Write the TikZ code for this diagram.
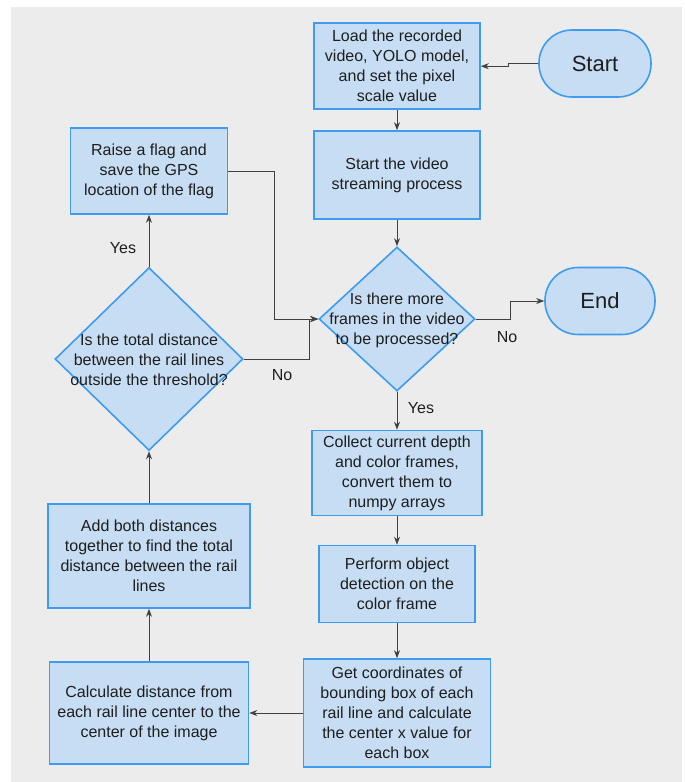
\documentclass[tikz,border=0pt]{standalone}
\usepackage{fontspec}
\setmainfont{Liberation Sans}
\usetikzlibrary{shapes.geometric,arrows.meta}
\definecolor{bgc}{HTML}{ECECEC}
\definecolor{boxfill}{HTML}{C7DDF3}
\definecolor{boxline}{HTML}{3D9BF0}
\definecolor{txt}{HTML}{1E1E1E}
\tikzset{
  box/.style={draw=boxline, fill=boxfill, line width=1.6pt, rectangle, inner sep=0pt, text=txt, align=center,
    font=\fontsize{16}{20}\selectfont},
  pill/.style={draw=boxline, fill=boxfill, line width=1.6pt, rounded corners=33pt, inner sep=0pt, text=txt,
    font=\fontsize{22}{26}\selectfont},
  dia/.style={draw=boxline, fill=boxfill, line width=1.6pt, diamond, inner sep=0pt},
  diatext/.style={text=txt, align=center, font=\fontsize{16}{20}\selectfont, inner sep=0pt},
  lbl/.style={text=txt, font=\fontsize{16}{20}\selectfont, inner sep=0pt},
  conn/.style={draw=txt!85, line width=0.9pt, -{Stealth[length=8pt,width=6pt]}},
}
\begin{document}
\begin{tikzpicture}[x=1pt,y=-1pt]
\useasboundingbox (0,0) rectangle (685,782);
\fill[bgc] (11,7) rectangle (682,782);
% right column
\node[box, minimum width=166, minimum height=86] (load) at (397,66.2) {Load the recorded\\video, YOLO model,\\and set the pixel\\scale value};
\node[pill, minimum width=112, minimum height=67] (start) at (595,63.5) {Start};
\node[box, minimum width=166, minimum height=88] (stream) at (397,175) {Start the video\\streaming process};
\node[dia, minimum width=156, minimum height=144] (more) at (397,319) {};
\node[diatext] (moretxt) at (397,320) {Is there more\\frames in the video\\to be processed?};
\node[pill, minimum width=110, minimum height=67] (end) at (600,301) {End};
\node[box, minimum width=170, minimum height=85] (collect) at (397,473) {Collect current depth\\and color frames,\\convert them to\\numpy arrays};
\node[box, minimum width=156, minimum height=77] (detect) at (397,584) {Perform object\\detection on the\\color frame};
\node[box, minimum width=187, minimum height=108] (coords) at (397,713) {Get coordinates of\\bounding box of each\\rail line and calculate\\the center x value for\\each box};
% left column
\node[box, minimum width=199, minimum height=102] (calc) at (149,713) {Calculate distance from\\each rail line center to the\\center of the image};
\node[box, minimum width=202, minimum height=104] (add) at (149,556) {Add both distances\\together to find the total\\distance between the rail\\lines};
\node[dia, minimum width=188, minimum height=183] (thr) at (149,359) {};
\node[diatext] (thrtxt) at (149,360) {Is the total distance\\between the rail lines\\outside the threshold?};
\node[box, minimum width=157, minimum height=86] (flag) at (149,171) {Raise a flag and\\save the GPS\\location of the flag};
% labels
\node[lbl] (yes1) at (421,408) {Yes};
\node[lbl] (no1) at (507,337) {No};
\node[lbl] (yes2) at (123,248) {Yes};
\node[lbl] (no2) at (282,375) {No};
% connectors
\draw[conn] (start.west) -- ++(-30,0) |- (load.east);
\draw[conn] (load.south) -- (stream.north);
\draw[conn] (stream.south) -- (more.north);
\draw[conn] (more.east) -- ++(35,0) |- (end.west);
\draw[conn] (more.south) -- (collect.north);
\draw[conn] (collect.south) -- (detect.north);
\draw[conn] (detect.south) -- (coords.north);
\draw[conn] (coords.west) -- (calc.east);
\draw[conn] (calc.north) -- (add.south);
\draw[conn] (add.north) -- (thr.south);
\draw[conn] (thr.north) -- (flag.south);
\draw[conn] (thr.east) -- ++(65.5,0) |- (more.west);
\draw[conn] (flag.east) -- ++(46,0) |- (more.west);
\end{tikzpicture}
\end{document}
